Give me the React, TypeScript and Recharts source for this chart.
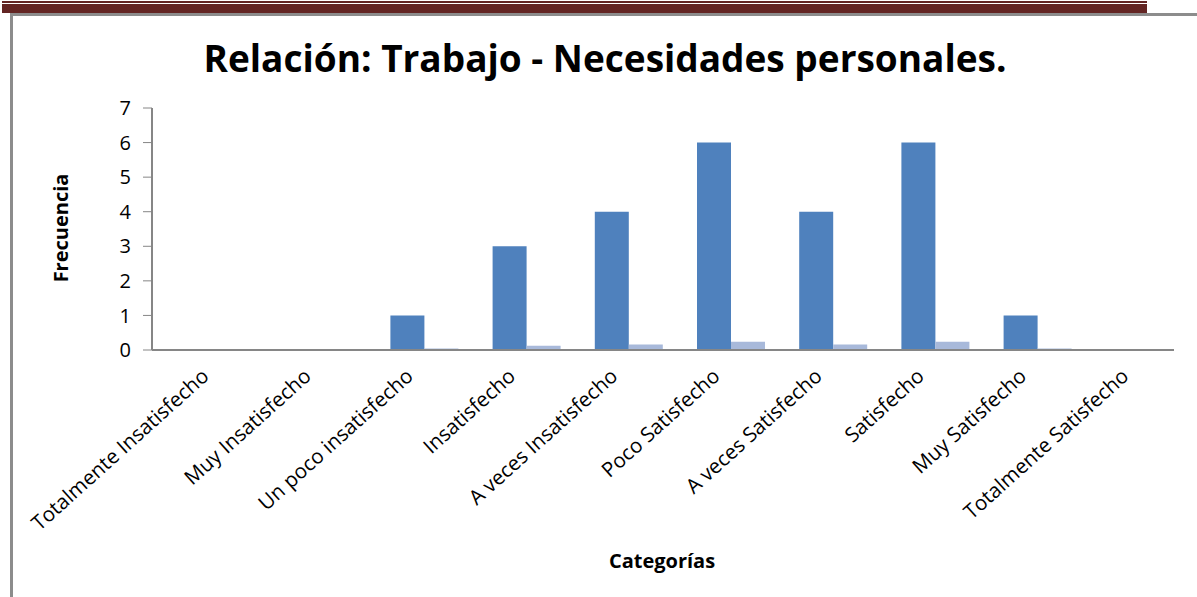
import { BarChart, Bar, XAxis, YAxis } from 'recharts'

const categorias = [
  'Totalmente Insatisfecho',
  'Muy Insatisfecho',
  'Un poco insatisfecho',
  'Insatisfecho',
  'A veces Insatisfecho',
  'Poco Satisfecho',
  'A veces Satisfecho',
  'Satisfecho',
  'Muy Satisfecho',
  'Totalmente Satisfecho',
]
// first series is empty in the original sheet (takes up space but draws nothing)
const serieVacia = [0, 0, 0, 0, 0, 0, 0, 0, 0, 0]
const frecuencia = [0, 0, 1, 3, 4, 6, 4, 6, 1, 0]
const frecuenciaRelativa = [0, 0, 0.04, 0.12, 0.16, 0.24, 0.16, 0.24, 0.04, 0]
const yTicks = [0, 1, 2, 3, 4, 5, 6, 7]

const data = categorias.map((c, i) => ({
  categoria: c,
  vacia: serieVacia[i],
  frecuencia: frecuencia[i],
  relativa: frecuenciaRelativa[i],
}))

const FONT = '"Open Sans", Lato, sans-serif'

function CategoryTick({ x, y, payload }: any) {
  return (
    <g transform={`translate(${x + 7},${y + 20})`}>
      <text
        x={0}
        y={0}
        textAnchor="end"
        transform="rotate(-42)"
        fontFamily={FONT}
        fontSize={20.5}
        fill="#000"
      >
        {payload.value}
      </text>
    </g>
  )
}

export default function App() {
  return (
    <div
      style={{
        position: 'absolute',
        left: 0,
        top: 0,
        width: 1197,
        height: 597,
        background: '#fff',
        overflow: 'hidden',
        fontFamily: FONT,
      }}
    >
      <div style={{ position: 'absolute', left: 2, top: 1, width: 1145, height: 2, background: '#632523' }} />
      <div style={{ position: 'absolute', left: 2, top: 4, width: 1145, height: 9, background: '#632523' }} />
      <div
        style={{
          position: 'absolute',
          left: 10,
          top: 13,
          width: 1200,
          height: 600,
          borderTop: '3px solid #8c8c8c',
          borderLeft: '3px solid #8c8c8c',
        }}
      />
      <div
        style={{
          position: 'absolute',
          left: 605,
          top: 57,
          transform: 'translate(-50%, -50%)',
          whiteSpace: 'nowrap',
          fontWeight: 700,
          fontSize: 37,
          color: '#000',
        }}
      >
        Relación: Trabajo - Necesidades personales.
      </div>
      <div
        style={{
          position: 'absolute',
          left: 60,
          top: 228,
          transform: 'translate(-50%, -50%) rotate(-90deg)',
          fontWeight: 700,
          fontSize: 20,
          whiteSpace: 'nowrap',
          color: '#000',
        }}
      >
        Frecuencia
      </div>
      <div
        style={{
          position: 'absolute',
          left: 662,
          top: 560,
          transform: 'translate(-50%, -50%)',
          fontWeight: 700,
          fontSize: 20,
          color: '#000',
        }}
      >
        Categorías
      </div>
      <div style={{ position: 'absolute', left: 0, top: 0 }}>
        <BarChart
          width={1197}
          height={597}
          data={data}
          margin={{ top: 108, right: 23, bottom: 32, left: 0 }}
          barCategoryGap={0}
          barGap={0}
        >
          <XAxis
            dataKey="categoria"
            interval={0}
            height={215}
            tickLine={false}
            axisLine={{ stroke: '#868686', strokeWidth: 2 }}
            tick={<CategoryTick />}
          />
          <YAxis
            width={152}
            domain={[0, 7]}
            ticks={yTicks}
            interval={0}
            tickSize={9}
            tickMargin={12}
            axisLine={{ stroke: '#868686', strokeWidth: 2 }}
            tickLine={{ stroke: '#868686' }}
            tick={{ fill: '#000', fontSize: 20, fontFamily: FONT }}
          />
          <Bar dataKey="vacia" fill="none" isAnimationActive={false} />
          <Bar dataKey="frecuencia" fill="#4f81bd" isAnimationActive={false} />
          <Bar dataKey="relativa" fill="#a8b9da" isAnimationActive={false} />
        </BarChart>
      </div>
    </div>
  )
}
